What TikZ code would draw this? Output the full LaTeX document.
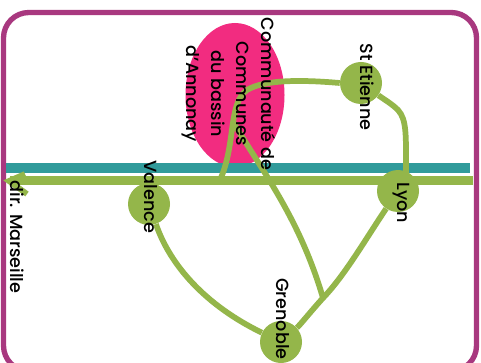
\documentclass[tikz,border=0pt]{standalone}
\usepackage{fontspec}
\usetikzlibrary{shapes.geometric}
\setmainfont{Poppins Medium}
\definecolor{routegreen}{HTML}{94B64A}
\definecolor{riverteal}{HTML}{319B9B}
\definecolor{framemag}{HTML}{A8387F}
\definecolor{zonepink}{HTML}{F22C80}
\tikzset{
  town/.style={circle,fill=routegreen,minimum size=31.5pt,inner sep=0pt},
  road/.style={draw=routegreen,line width=4.3pt},
  mainroad/.style={draw=routegreen,line width=6.75pt},
  lbl/.style={rotate=-90,font=\fontsize{13.2pt}{18.75pt}\selectfont,align=center,text=black,inner sep=0pt},
}
\begin{document}
\begin{tikzpicture}[x=0.75pt,y=-0.75pt]
\useasboundingbox (0,0) rectangle (481,363);
\fill[white] (0,0) rectangle (481,363);
\begin{scope}
\clip (0,0) rectangle (481,363);
\draw[framemag,line width=4pt,rounded corners=19pt] (3.5,12.5) rectangle (476.5,371);
\end{scope}
\node[ellipse,fill=zonepink,minimum width=74.25pt,minimum height=108pt,inner sep=0pt] (zone) at (235,95) {};
\node[rectangle,fill=riverteal,minimum width=348pt,minimum height=7.5pt,inner sep=0pt] (river) at (238,168) {};
\coordinate (mainE) at (473,181);
\coordinate (mainW) at (10,181);
\coordinate (tipU) at (25,174);
\coordinate (tipD) at (27,194);
\coordinate (tip) at (9,181);
\coordinate (join) at (220,180);
\coordinate (fork) at (323,298);
\coordinate (branch) at (233,122);
\node[town] (etienne) at (361,83) {};
\node[town] (valence) at (149,204) {};
\node[town] (lyon) at (398,191) {};
\node[town] (grenoble) at (281,342) {};
\draw[mainroad] (mainE) -- (mainW);
\draw[road] (tipU) -- (tip) -- (tipD);
\draw[road] (etienne.west) .. controls (305,80) and (265,79) .. (247,90) .. controls (228,103) and (236,145) .. (join);
\draw[road] (etienne) .. controls (385,100) and (392,104) .. (398,110) .. controls (407,120) and (406,135) .. (406,178);
\draw[road] (lyon) .. controls (365,240) and (345,275) .. (fork) .. controls (312,310) and (300,325) .. (grenoble);
\draw[road] (branch) .. controls (265,175) and (300,220) .. (fork);
\draw[road] (valence) .. controls (170,265) and (205,305) .. (grenoble);
\node[lbl] (lzone) at (229,94) {Communauté de\\Communes\\du bassin\\d'Annonay};
\node[lbl] (letienne) at (367,87) {St Etienne};
\node[lbl] (lvalence) at (150.5,197) {Valence};
\node[lbl] (llyon) at (401,203) {Lyon};
\node[lbl] (lgrenoble) at (282.5,319) {Grenoble};
\node[lbl] (lmars) at (17,237) {dir. Marseille};
\end{tikzpicture}
\end{document}
